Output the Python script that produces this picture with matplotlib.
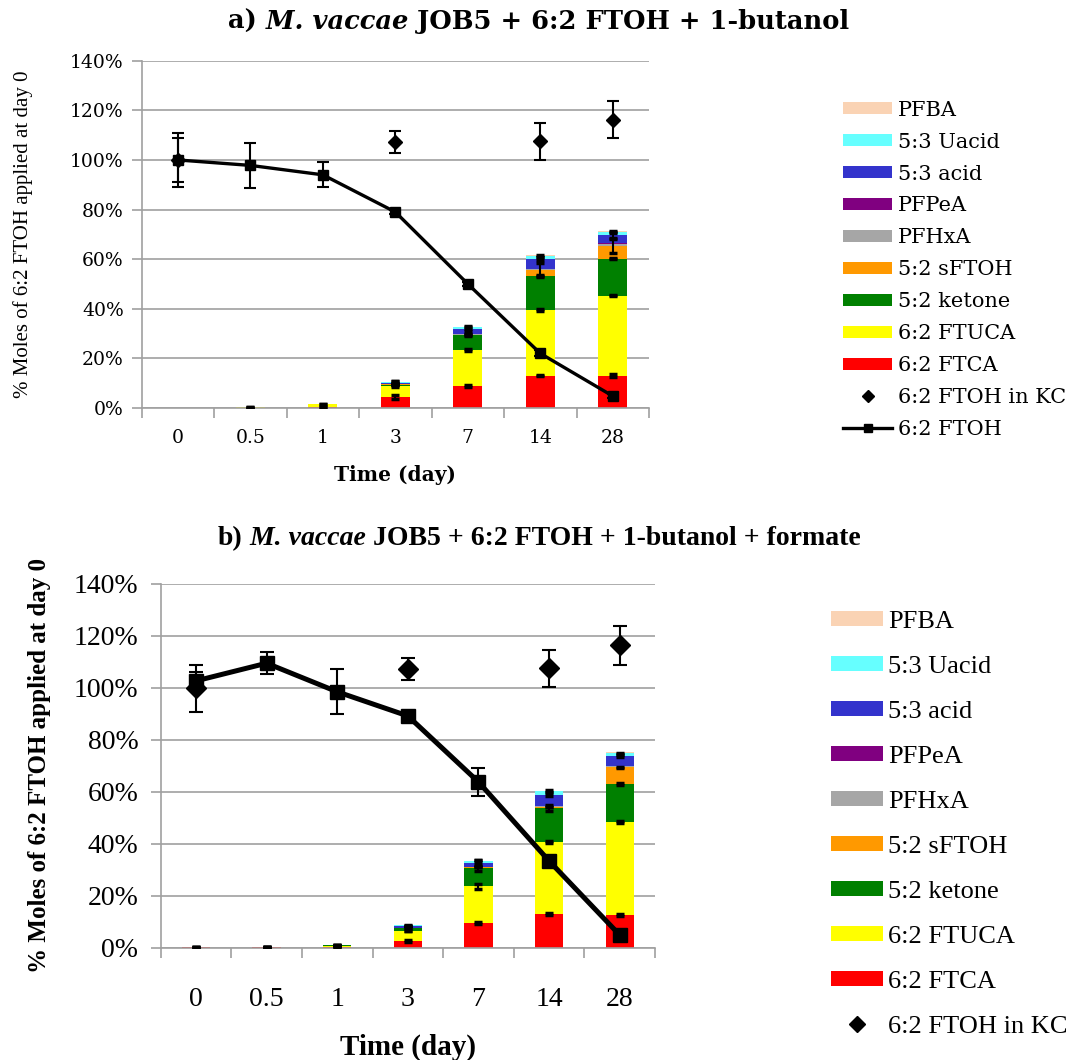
import numpy as np
import matplotlib.pyplot as plt
from matplotlib.patches import Patch
from matplotlib.lines import Line2D

# categories and series (percent of 6:2 FTOH applied at day 0)
days = ['0', '0.5', '1', '3', '7', '14', '28']
compounds = ['6:2 FTCA', '6:2 FTUCA', '5:2 ketone', '5:2 sFTOH', 'PFHxA',
             'PFPeA', '5:3 acid', '5:3 Uacid', 'PFBA']
colors = ['#FF0000', '#FFFF00', '#008000', '#FF9900', '#A6A6A6',
          '#800080', '#3333CC', '#66FFFF', '#FAD3B4']

# panel a) JOB5 + 6:2 FTOH + 1-butanol
a_ftca = [0, 0.1, 0.3, 4.3, 8.9, 13.0, 13.0]
a_ftuca = [0, 0.2, 1.2, 4.7, 14.4, 26.4, 32.3]
a_ketone = [0, 0, 0, 0.3, 6.1, 13.9, 14.9]
a_sftoh = [0, 0, 0, 0.2, 0.2, 2.5, 5.0]
a_pfhxa = [0, 0, 0, 0, 0.2, 0.3, 1.1]
a_pfpea = [0, 0, 0, 0, 0.1, 0.1, 0.2]
a_acid = [0, 0, 0, 0.7, 1.8, 4.0, 3.4]
a_uacid = [0, 0, 0, 0.3, 0.8, 1.1, 1.1]
a_pfba = [0, 0, 0, 0, 0.1, 0.2, 0.2]
a_ftca_err = [0, 0, 0, 0.8, 0.3, 0.3, 0.6]
a_ftuca_err = [0, 0, 0, 0.5, 0.3, 0.4, 0.3]
a_ketone_err = [0, 0, 0, 0.2, 0.3, 0.3, 0.3]
a_sftoh_err = [0, 0, 0, 0, 0.3, 2.7, 2.8]
a_acid_err = [0, 0, 0, 0.8, 0.8, 0.6, 1.2]
a_uacid_err = [0, 0, 0, 0.3, 0.5, 0.3, 0.3]
a_ftoh = [100, 97.8, 94, 79, 50, 22, 4.8]
a_ftoh_err = [11, 9, 5, 0.8, 0.8, 1.2, 0.8]
a_kc = [100, np.nan, np.nan, 107.3, np.nan, 107.5, 116.3]
a_kc_err = [9, 0, 0, 4.5, 0, 7.5, 7.3]

# panel b) JOB5 + 6:2 FTOH + 1-butanol + formate
b_ftca = [0.1, 0.1, 0.3, 2.7, 9.5, 13.0, 12.6]
b_ftuca = [0.1, 0.1, 0.5, 3.8, 14.1, 27.8, 35.7]
b_ketone = [0, 0, 0.1, 1.0, 7.1, 13.1, 14.7]
b_sftoh = [0, 0.2, 0.3, 0, 0.2, 0.3, 6.4]
b_pfhxa = [0, 0, 0, 0, 0.1, 0.2, 0.5]
b_pfpea = [0, 0, 0, 0, 0, 0.1, 0.1]
b_acid = [0, 0, 0, 0.7, 1.6, 4.4, 3.8]
b_uacid = [0, 0, 0, 0.4, 0.9, 1.4, 1.0]
b_pfba = [0, 0, 0, 0, 0, 0.1, 0.4]
b_ftca_err = [0, 0, 0, 0.4, 0.4, 0.3, 0.2]
b_ftuca_err = [0, 0, 0, 0, 0.9, 0.3, 0.3]
b_ketone_err = [0, 0, 0, 0, 1.2, 1.2, 0.3]
b_sftoh_err = [0, 0, 0, 0, 0, 0, 0.3]
b_acid_err = [0, 0, 0, 0, 1.1, 0.6, 0.3]
b_uacid_err = [0, 0, 0, 0.3, 0.4, 0.4, 0.3]
b_ftoh = [102.7, 109.5, 98.5, 89.2, 63.8, 33.4, 4.9]
b_ftoh_err = [3.5, 4.3, 8.7, 1.0, 5.4, 1.0, 1.0]
b_kc = [99.8, np.nan, np.nan, 107.3, np.nan, 107.5, 116.4]
b_kc_err = [9, 0, 0, 4.3, 0, 7.2, 7.4]

GRID = '#A0A0A0'


def draw_panel(ax, stacks, errs, ftoh, ftoh_err, kc, kc_err,
               lw, ms, dms, cap, tick_font, tick_size, xpad, ypad):
    x = np.arange(len(days))
    bottom = np.zeros(len(days))
    for vals, err, col in zip(stacks, errs, colors):
        vals = np.array(vals, float)
        ax.bar(x, vals, 0.4, bottom=bottom, color=col, zorder=2)
        bottom = bottom + vals
        if err is not None:
            m = vals > 0
            ax.errorbar(x[m], bottom[m], yerr=np.array(err, float)[m], fmt='none',
                        ecolor='black', elinewidth=1.5, capsize=cap * 0.6,
                        capthick=2.5, zorder=3)
    ax.errorbar(x, kc, yerr=kc_err, fmt='D', color='black', ms=dms,
                capsize=cap, elinewidth=1.5, capthick=1.5, zorder=4)
    ax.errorbar(x, ftoh, yerr=ftoh_err, color='black', lw=lw, marker='s', ms=ms,
                capsize=cap, elinewidth=1.5, capthick=1.5, zorder=5)

    ax.set_xlim(-0.5, 6.5)
    ax.set_ylim(0, 140)
    ax.set_yticks(range(0, 141, 20))
    ax.set_yticklabels([f'{v}%' for v in range(0, 141, 20)],
                       fontfamily=tick_font, fontsize=tick_size)
    ax.set_xticks(x)
    ax.set_xticklabels(days, fontfamily=tick_font, fontsize=tick_size)
    ax.set_xticks(np.arange(-0.5, 7, 1), minor=True)
    ax.tick_params(axis='x', which='major', length=0, pad=xpad)
    ax.tick_params(axis='x', which='minor', length=7, width=1.2, color=GRID)
    ax.tick_params(axis='y', length=7, width=1.2, color=GRID, pad=ypad)
    ax.yaxis.grid(True, color=GRID, lw=1.2)
    ax.set_axisbelow(True)
    for s in ['top', 'right']:
        ax.spines[s].set_visible(False)
    for s in ['left', 'bottom']:
        ax.spines[s].set_color(GRID)
        ax.spines[s].set_linewidth(1.2)


def title_parts(ax, x, y, parts, family, size):
    prev = None
    for txt, style in parts:
        kw = dict(fontfamily=family, fontsize=size, fontweight='bold', fontstyle=style)
        if prev is None:
            prev = ax.figure.text(x, y, txt, ha='left', va='baseline', **kw)
        else:
            prev = ax.annotate(txt, xy=(1, 0), xycoords=prev, ha='left', va='bottom',
                               annotation_clip=False, **kw)


fig = plt.figure(figsize=(10.85, 10.6), dpi=100)
ax1 = fig.add_axes([0.1306, 0.6151, 0.4676, 0.3276])
ax2 = fig.add_axes([0.1481, 0.1059, 0.4556, 0.3432])

draw_panel(ax1,
           [a_ftca, a_ftuca, a_ketone, a_sftoh, a_pfhxa, a_pfpea, a_acid, a_uacid, a_pfba],
           [a_ftca_err, a_ftuca_err, a_ketone_err, a_sftoh_err, None, None,
            a_acid_err, a_uacid_err, None],
           a_ftoh, a_ftoh_err, a_kc, a_kc_err,
           lw=2.4, ms=7.5, dms=7.5, cap=4.5, tick_font='DejaVu Serif', tick_size=13.5,
           xpad=15, ypad=6)
draw_panel(ax2,
           [b_ftca, b_ftuca, b_ketone, b_sftoh, b_pfhxa, b_pfpea, b_acid, b_uacid, b_pfba],
           [b_ftca_err, b_ftuca_err, b_ketone_err, b_sftoh_err, None, None,
            b_acid_err, b_uacid_err, None],
           b_ftoh, b_ftoh_err, b_kc, b_kc_err,
           lw=3.6, ms=10.5, dms=10, cap=5, tick_font='Liberation Serif', tick_size=20,
           xpad=28, ypad=9)

ax1.set_ylabel('% Moles of 6:2 FTOH applied at day 0', fontfamily='Liberation Serif',
               fontsize=15)
ax1.yaxis.set_label_coords(-0.215, 0.5)
ax1.set_xlabel('Time (day)', fontfamily='DejaVu Serif', fontsize=14.5, fontweight='bold')
ax1.xaxis.set_label_coords(0.5, -0.165)
ax2.set_ylabel('% Moles of 6:2 FTOH applied at day 0', fontfamily='Liberation Serif',
               fontsize=18, fontweight='bold')
ax2.yaxis.set_label_coords(-0.222, 0.5)
ax2.set_xlabel('Time (day)', fontfamily='Liberation Serif', fontsize=21, fontweight='bold')
ax2.xaxis.set_label_coords(0.5, -0.235)

title_parts(ax1, 0.21, 0.9726,
            [('a)', 'normal'), (' M. vaccae', 'italic'),
             (' JOB5 + 6:2 FTOH + 1-butanol', 'normal')], 'DejaVu Serif', 18.5)
title_parts(ax2, 0.2009, 0.4858,
            [('b)', 'normal'), (' M. vaccae', 'italic'),
             (' JOB5 + 6:2 FTOH + 1-butanol + formate', 'normal')], 'Liberation Serif', 20)

# legends (listed top to bottom as in the original)
patch_handles = [Patch(facecolor=c) for c in colors[::-1]]
patch_labels = compounds[::-1]
kc_a = Line2D([], [], ls='none', marker='D', color='black', ms=6)
line_a = Line2D([], [], color='black', lw=2.4, marker='s', ms=6)
fig.legend(patch_handles + [kc_a, line_a], patch_labels + ['6:2 FTOH in KC', '6:2 FTOH'],
           loc='upper left', bbox_to_anchor=(0.777, 0.905), frameon=False,
           borderpad=0, borderaxespad=0, handlelength=2.35, handleheight=0.5,
           handletextpad=0.28, labelspacing=0.62,
           prop={'family': 'DejaVu Serif', 'size': 15})
kc_b = Line2D([], [], ls='none', marker='D', color='black', ms=8)
fig.legend(patch_handles + [kc_b], patch_labels + ['6:2 FTOH in KC'],
           loc='upper left', bbox_to_anchor=(0.766, 0.4236), frameon=False,
           borderpad=0, borderaxespad=0, handlelength=1.97, handleheight=0.5,
           handletextpad=0.2, labelspacing=0.87,
           prop={'family': 'Liberation Serif', 'size': 19})

fig.savefig('out.png', dpi=100)
